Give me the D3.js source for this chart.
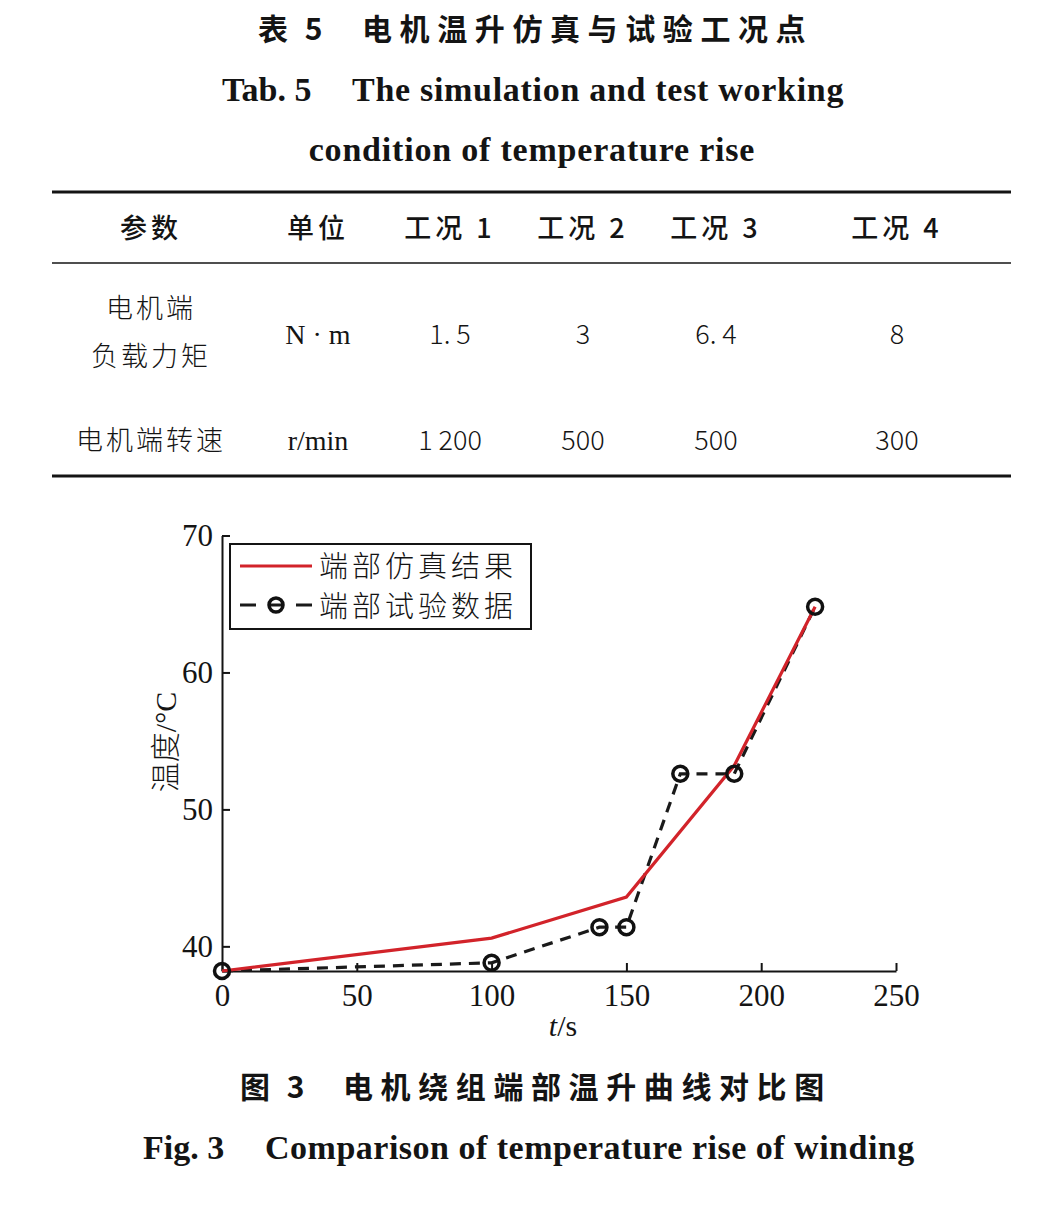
<!DOCTYPE html>
<html>
<head>
<meta charset="utf-8">
<script src="https://cdn.jsdelivr.net/npm/d3@7"></script>
<style>
  html, body { margin: 0; padding: 0; background: #fff; }
  svg { display: block; }
</style>
</head>
<body>
<svg id="chart" width="1043" height="1205"></svg>
<script>
// ---------- data ----------
const tableTitleCN = ["表 5", "电机温升仿真与试验工况点"];
const tableTitleEN = ["Tab. 5", "The simulation and test working", "condition of temperature rise"];
const tableHeaders = ["参数", "单位", "工况 1", "工况 2", "工况 3", "工况 4"];
const torqueLabel = ["电机端", "负载力矩"];
const torqueUnit = "N · m";
const torqueValues = ["1. 5", "3", "6. 4", "8"];
const speedLabel = "电机端转速";
const speedUnit = "r/min";
const speedValues = ["1 200", "500", "500", "300"];

const simTime = [0, 100, 150, 190, 220];
const simTemp = [38.2, 40.6, 43.6, 53.2, 64.8];
const testTime = [0, 100, 140, 150, 170, 190, 220];
const testTemp = [38.2, 38.8, 41.4, 41.4, 52.6, 52.6, 64.8];

const xTicks = [0, 50, 100, 150, 200, 250];
const yTicks = [40, 50, 60, 70];
const seriesNames = ["端部仿真结果", "端部试验数据"];
const xLabel = ["t", "/s"];
const yLabel = ["温度", "/°C"];
const figCaptionCN = ["图 3", "电机绕组端部温升曲线对比图"];
const figCaptionEN = ["Fig. 3", "Comparison of temperature rise of winding"];

// ---------- drawing ----------
const svg = d3.select("#chart");
const CJK = "'Noto Sans CJK SC', 'Noto Sans', sans-serif";
const SERIF = "'Liberation Serif', 'DejaVu Serif', serif";
const INK = "#141414";

// Table title
svg.append("text").attr("x", 258).attr("y", 40)
  .attr("font-family", CJK).attr("font-weight", 700).attr("font-size", 30).attr("fill", INK)
  .attr("letter-spacing", 5).text(tableTitleCN[0]);
svg.append("text").attr("x", 362).attr("y", 40)
  .attr("font-family", CJK).attr("font-weight", 700).attr("font-size", 30).attr("fill", INK)
  .attr("letter-spacing", 7.6).text(tableTitleCN[1]);
svg.append("text").attr("x", 222).attr("y", 101)
  .attr("font-family", SERIF).attr("font-weight", 700).attr("font-size", 34).attr("fill", INK)
  .text(tableTitleEN[0]);
svg.append("text").attr("x", 352).attr("y", 101)
  .attr("font-family", SERIF).attr("font-weight", 700).attr("font-size", 34).attr("fill", INK)
  .attr("letter-spacing", 0.7).text(tableTitleEN[1]);
svg.append("text").attr("x", 532).attr("y", 161).attr("text-anchor", "middle")
  .attr("font-family", SERIF).attr("font-weight", 700).attr("font-size", 34).attr("fill", INK)
  .attr("letter-spacing", 0.8).text(tableTitleEN[2]);

// Table rules
const ruleX = [52, 1011];
svg.append("line").attr("x1", ruleX[0]).attr("x2", ruleX[1]).attr("y1", 192).attr("y2", 192)
  .attr("stroke", INK).attr("stroke-width", 3);
svg.append("line").attr("x1", ruleX[0]).attr("x2", ruleX[1]).attr("y1", 263).attr("y2", 263)
  .attr("stroke", INK).attr("stroke-width", 1.3);
svg.append("line").attr("x1", ruleX[0]).attr("x2", ruleX[1]).attr("y1", 476).attr("y2", 476)
  .attr("stroke", INK).attr("stroke-width", 3);

const colX = [151, 318, 450, 583, 716, 897];
svg.append("g").selectAll("text").data(tableHeaders).join("text")
  .attr("x", (d, i) => colX[i]).attr("y", 238).attr("text-anchor", "middle")
  .attr("font-family", CJK).attr("font-weight", 500).attr("font-size", 27).attr("fill", INK)
  .attr("letter-spacing", 4).text(d => d);

svg.append("g").selectAll("text").data(torqueLabel).join("text")
  .attr("x", colX[0]).attr("y", (d, i) => 318 + i * 48).attr("text-anchor", "middle")
  .attr("font-family", CJK).attr("font-weight", 300).attr("font-size", 27).attr("fill", INK)
  .attr("letter-spacing", 3).text(d => d);
svg.append("text").attr("x", colX[1]).attr("y", 344).attr("text-anchor", "middle")
  .attr("font-family", SERIF).attr("font-size", 28).attr("fill", INK).text(torqueUnit);
svg.append("g").selectAll("text").data(torqueValues).join("text")
  .attr("x", (d, i) => colX[i + 2]).attr("y", 344).attr("text-anchor", "middle")
  .attr("font-family", CJK).attr("font-weight", 300).attr("font-size", 27).attr("fill", INK)
  .text(d => d);

svg.append("text").attr("x", colX[0]).attr("y", 450).attr("text-anchor", "middle")
  .attr("font-family", CJK).attr("font-weight", 300).attr("font-size", 27).attr("fill", INK)
  .attr("letter-spacing", 3).text(speedLabel);
svg.append("text").attr("x", colX[1]).attr("y", 450).attr("text-anchor", "middle")
  .attr("font-family", SERIF).attr("font-size", 28).attr("fill", INK).text(speedUnit);
svg.append("g").selectAll("text").data(speedValues).join("text")
  .attr("x", (d, i) => colX[i + 2]).attr("y", 450).attr("text-anchor", "middle")
  .attr("font-family", CJK).attr("font-weight", 300).attr("font-size", 27).attr("fill", INK)
  .text(d => d);

// ---------- chart ----------
const x = d3.scaleLinear().domain([0, 250]).range([222, 896]);
const y = d3.scaleLinear().domain([38.2, 70]).range([971, 535.5]);

const xAxis = svg.append("g").attr("transform", `translate(0,${y(38.2)})`)
  .call(d3.axisBottom(x).tickValues(xTicks).tickSizeInner(-8).tickSizeOuter(0).tickPadding(13));
const yAxis = svg.append("g").attr("transform", `translate(${x(0)},0)`)
  .call(d3.axisLeft(y).tickValues(yTicks).tickSizeInner(-8).tickSizeOuter(0).tickPadding(9));
[xAxis, yAxis].forEach(g => {
  g.select(".domain").attr("stroke", INK).attr("stroke-width", 2);
  g.selectAll(".tick line").attr("stroke", INK).attr("stroke-width", 2);
  g.selectAll(".tick text").attr("font-family", SERIF).attr("font-size", 31).attr("fill", INK);
});

const line = d3.line().x(d => x(d[0])).y(d => y(d[1]));
const simPts = simTime.map((t, i) => [t, simTemp[i]]);
const testPts = testTime.map((t, i) => [t, testTemp[i]]);

svg.append("path").datum(testPts).attr("d", line).attr("fill", "none")
  .attr("stroke", "#1a1a1a").attr("stroke-width", 3.2).attr("stroke-dasharray", "11,8");
svg.append("path").datum(simPts).attr("d", line).attr("fill", "none")
  .attr("stroke", "#d2232a").attr("stroke-width", 3.2);
svg.append("g").selectAll("circle").data(testPts).join("circle")
  .attr("cx", d => x(d[0])).attr("cy", d => y(d[1])).attr("r", 7.5)
  .attr("fill", "none").attr("stroke", "#111").attr("stroke-width", 3.5);

// axis labels
svg.append("text").attr("x", 563).attr("y", 1036).attr("text-anchor", "middle")
  .attr("font-family", SERIF).attr("font-size", 30).attr("fill", INK)
  .call(t => {
    t.append("tspan").attr("font-style", "italic").text(xLabel[0]);
    t.append("tspan").text(xLabel[1]);
  });
svg.append("text").attr("transform", "translate(176,742) rotate(-90)").attr("text-anchor", "middle")
  .attr("font-size", 30).attr("fill", INK)
  .call(t => {
    t.append("tspan").attr("font-family", CJK).attr("font-weight", 300).text(yLabel[0]);
    t.append("tspan").attr("font-family", SERIF).text(yLabel[1]);
  });

// legend
const lg = svg.append("g");
lg.append("rect").attr("x", 230).attr("y", 544).attr("width", 301).attr("height", 85)
  .attr("fill", "#fff").attr("stroke", INK).attr("stroke-width", 2);
lg.append("line").attr("x1", 240).attr("x2", 312).attr("y1", 566).attr("y2", 566)
  .attr("stroke", "#d2232a").attr("stroke-width", 3.2);
lg.append("line").attr("x1", 240).attr("x2", 312).attr("y1", 605).attr("y2", 605)
  .attr("stroke", "#1a1a1a").attr("stroke-width", 3.2).attr("stroke-dasharray", "16,12,16,12,16");
lg.append("circle").attr("cx", 276).attr("cy", 605).attr("r", 7)
  .attr("fill", "none").attr("stroke", "#111").attr("stroke-width", 3.5);
lg.selectAll("text.leg").data(seriesNames).join("text").attr("class", "leg")
  .attr("x", 319).attr("y", (d, i) => 577 + i * 40)
  .attr("font-family", CJK).attr("font-weight", 300).attr("font-size", 29).attr("fill", INK)
  .attr("letter-spacing", 4).text(d => d);

// figure caption
svg.append("text").attr("x", 240).attr("y", 1098)
  .attr("font-family", CJK).attr("font-weight", 700).attr("font-size", 30).attr("fill", INK)
  .attr("letter-spacing", 5).text(figCaptionCN[0]);
svg.append("text").attr("x", 343).attr("y", 1098)
  .attr("font-family", CJK).attr("font-weight", 700).attr("font-size", 30).attr("fill", INK)
  .attr("letter-spacing", 7.6).text(figCaptionCN[1]);
svg.append("text").attr("x", 143).attr("y", 1159)
  .attr("font-family", SERIF).attr("font-weight", 700).attr("font-size", 34).attr("fill", INK)
  .text(figCaptionEN[0]);
svg.append("text").attr("x", 265).attr("y", 1159)
  .attr("font-family", SERIF).attr("font-weight", 700).attr("font-size", 34).attr("fill", INK)
  .attr("letter-spacing", 0.5).text(figCaptionEN[1]);
</script>
</body>
</html>
